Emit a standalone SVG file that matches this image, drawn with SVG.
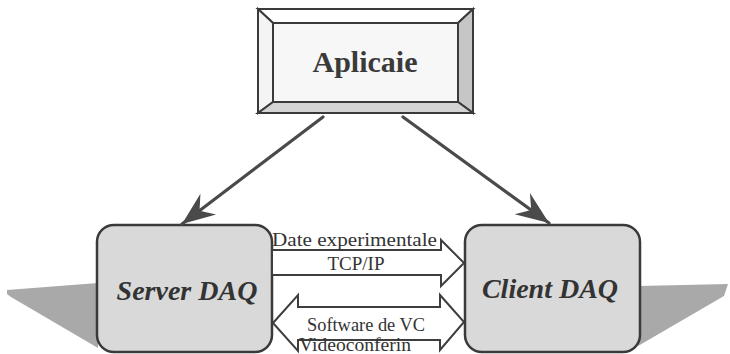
<svg xmlns="http://www.w3.org/2000/svg" width="730" height="354" viewBox="0 0 730 354">
<defs>
<style>
.edge{fill:none;stroke:#4a4a4a;stroke-width:3.2;stroke-linecap:round}
.blk{fill:#ffffff;stroke:#3e3e3e;stroke-width:2;stroke-linejoin:miter}
.box{fill:#d9d9d9;stroke:#3a3a3a;stroke-width:2.5}
.shadow{fill:#a9a9a9}
.bev{stroke:#3a3a3a;stroke-width:2;stroke-linejoin:miter}
.title{font-family:"Liberation Serif","Times New Roman",serif;font-weight:bold;font-size:30px;fill:#3a3a3a;text-anchor:middle}
.daq{font-family:"Liberation Serif","Times New Roman",serif;font-weight:bold;font-style:italic;font-size:28px;fill:#333;text-anchor:middle}
.lbl{font-family:"Liberation Serif","Times New Roman",serif;font-size:19px;fill:#333}
</style>
<marker id="barb" markerUnits="userSpaceOnUse" viewBox="-34 -15 36 30" refX="0" refY="0" markerWidth="36" markerHeight="30" orient="auto">
<path d="M0,0 L-33,-13 L-22,0 L-33,13 Z" fill="#4a4a4a"/>
</marker>
</defs>
<rect width="730" height="354" fill="#ffffff"/>

<g id="node-aplicaie">
<polygon class="bev" points="258,9 473,9 458,23 273,23" fill="#ffffff"/>
<polygon class="bev" points="258,9 273,23 273,102 258,113" fill="#f4f4f4"/>
<polygon class="bev" points="473,9 473,113 458,102 458,23" fill="#c6c6c6"/>
<polygon class="bev" points="258,113 473,113 458,102 273,102" fill="#d4d4d4"/>
<rect x="273" y="23" width="185" height="79" fill="#f7f7f7" stroke="#3a3a3a" stroke-width="2"/>
<text class="title" x="365" y="72">Aplicaie</text>
</g>

<g id="node-server">
<polygon class="shadow" points="7,290 98,283 98,348 11,297 7,294"/>
<rect class="box" x="97" y="225" width="175" height="127" rx="17" ry="17"/>
<text class="daq" x="187" y="300">Server DAQ</text>
</g>

<g id="node-client">
<polygon class="shadow" points="638,286 728,284 724,296 638,346"/>
<rect class="box" x="465" y="225" width="175" height="127" rx="17" ry="17"/>
<text class="daq" x="550" y="298">Client DAQ</text>
</g>

<g id="connectors">
<line class="edge" x1="323" y1="117" x2="182" y2="224" marker-end="url(#barb)"/>
<line class="edge" x1="403" y1="117" x2="549" y2="223" marker-end="url(#barb)"/>
<g id="link-date">
<polygon class="blk" points="272,250 441,250 441,240 464,263 441,286 441,275 272,275"/>
<text class="lbl" x="272" y="246" font-size="20.5" textLength="165" lengthAdjust="spacingAndGlyphs">Date experimentale</text>
<text class="lbl" x="356" y="270" text-anchor="middle" font-size="18">TCP/IP</text>
</g>
<g id="link-vc">
<polygon class="blk" points="273,323 298,295 298,307 440,307 440,295 464,322 440,350 440,340 298,340 298,351"/>
<text class="lbl" x="366" y="330.5" text-anchor="middle" font-size="18" textLength="118" lengthAdjust="spacingAndGlyphs">Software de VC</text>
<text class="lbl" x="299" y="351" font-size="14.5" textLength="112" lengthAdjust="spacingAndGlyphs">Videoconferin</text>
</g>
</g>
</svg>
